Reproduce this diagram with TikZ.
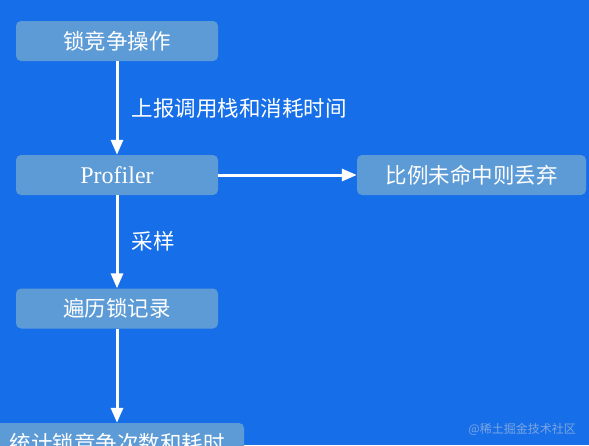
\documentclass[tikz,border=0pt]{standalone}
\usepackage{fontspec}
\setmainfont{Liberation Serif}
\newfontfamily\cjk{Noto Sans CJK SC}
\definecolor{bgblue}{RGB}{22,111,232}
\definecolor{boxblue}{RGB}{92,155,214}
\definecolor{wmgray}{RGB}{125,165,225}
\usetikzlibrary{arrows.meta,positioning}

\begin{document}
\begin{tikzpicture}[x=1pt,y=-1pt,
  box/.style={fill=boxblue,rounded corners=5pt,minimum width=202pt,minimum height=40pt,inner sep=0pt,text=white,font=\fontsize{21.5}{25}\selectfont\cjk},
  flow/.style={-{Triangle[length=15pt,width=12pt]},white,line width=3pt},
  lbl/.style={anchor=west,text=white,inner sep=0pt,font=\fontsize{21.5}{25}\selectfont\cjk}]
  \fill[bgblue] (0,0) rectangle (589,445);
  \useasboundingbox (0,0) rectangle (589,445);
  \node[box] (lock) at (117,41) {锁竞争操作};
  \node[box,font=\fontsize{24}{28}\selectfont] (prof) at (117,175) {Profiler};
  \node[box,minimum width=229pt] (drop) at (471.5,175) {比例未命中则丢弃};
  \node[box] (walk) at (117,308.5) {遍历锁记录};
  \node[box,minimum width=254pt] (stat) at (117,443) {统计锁竞争次数和耗时};
  \draw[flow] (lock) -- (prof) node[pos=0.5,right=13pt,lbl] (report) {上报调用栈和消耗时间};
  \draw[flow] (prof) -- (drop);
  \draw[flow] (prof) -- (walk) node[pos=0.5,right=13pt,lbl] (sample) {采样};
  \draw[flow] (walk) -- (stat);
  \node[anchor=east,text=wmgray,inner sep=0pt,font=\fontsize{12}{14}\selectfont\cjk] (mark) at (576,429) {@稀土掘金技术社区};
\end{tikzpicture}
\end{document}
